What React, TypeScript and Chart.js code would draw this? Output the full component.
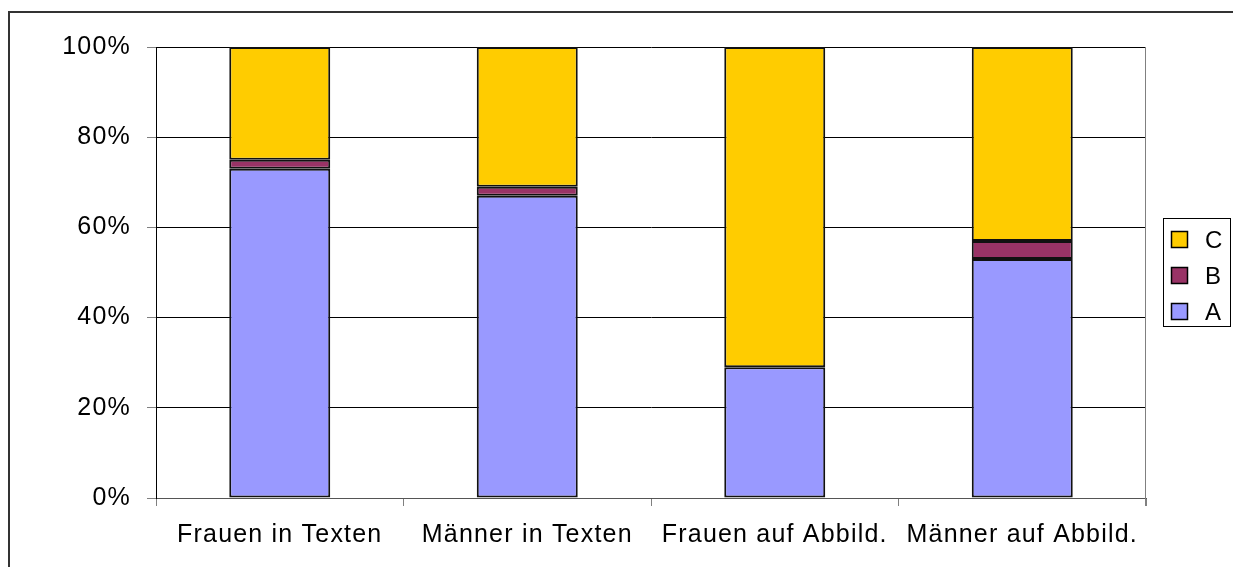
import React, { useEffect, useRef } from "react";
import { Chart, registerables } from "chart.js";

Chart.register(...registerables);

const categories = ["Frauen in Texten", "Männer in Texten", "Frauen auf Abbild.", "Männer auf Abbild."];
const seriesA = [73, 67, 29, 53];
const seriesB = [2, 2, 0, 4];
const seriesC = [25, 31, 71, 43];
const yTicks = [0, 20, 40, 60, 80, 100];

const FONT = "'Liberation Sans', Arial, sans-serif";

const legendPlugin = {
  id: "boxLegend",
  beforeDraw(chart: any) {
    chart.ctx.letterSpacing = "1.2px";
  },
  afterDraw(chart: any) {
    const ctx = chart.ctx;
    const ca = chart.chartArea;
    ctx.save();
    // right plot border
    ctx.strokeStyle = "#808080";
    ctx.lineWidth = 1;
    ctx.beginPath();
    ctx.moveTo(Math.round(ca.right) - 0.5, ca.top);
    ctx.lineTo(Math.round(ca.right) - 0.5, ca.bottom + 8);
    ctx.stroke();

    // legend box
    const bx = 1163.5, by = 218.5, bw = 67, bh = 108;
    ctx.fillStyle = "#fff";
    ctx.fillRect(bx, by, bw, bh);
    ctx.strokeStyle = "#000";
    ctx.strokeRect(bx, by, bw, bh);
    const ds = chart.data.datasets.slice().reverse();
    ds.forEach((d: any, i: number) => {
      const cy = 240 + i * 36;
      ctx.fillStyle = d.backgroundColor;
      ctx.fillRect(1172, cy - 8, 15, 15);
      ctx.strokeStyle = "#000";
      ctx.lineWidth = 1.5;
      ctx.strokeRect(1171.5, cy - 8.5, 16, 16);
      ctx.fillStyle = "#000";
      ctx.font = `24px ${FONT}`;
      ctx.textAlign = "left";
      ctx.textBaseline = "middle";
      ctx.letterSpacing = "1px";
      ctx.fillText(d.label, 1205, cy + 1);
    });
    ctx.restore();
  },
};

export default function App() {
  const ref = useRef<HTMLCanvasElement | null>(null);
  useEffect(() => {
    if (!ref.current) return;
    const common = { borderColor: "#111", borderWidth: 2, borderSkipped: false };
    const chart = new Chart(ref.current, {
      type: "bar",
      data: {
        labels: categories,
        datasets: [
          { label: "A", data: seriesA, backgroundColor: "#9999FF", ...common },
          { label: "B", data: seriesB, backgroundColor: "#993366", ...common },
          { label: "C", data: seriesC, backgroundColor: "#FFCC00", ...common },
        ],
      },
      options: {
        responsive: false,
        maintainAspectRatio: false,
        animation: false,
        devicePixelRatio: 1,
        layout: { padding: { top: 47, right: 87, left: 0, bottom: 0 } },
        datasets: { bar: { categoryPercentage: 1, barPercentage: 0.408 } },
        plugins: { legend: { display: false }, tooltip: { enabled: false } },
        scales: {
          x: {
            stacked: true,
            grid: { offset: true, drawOnChartArea: false, drawTicks: true, tickLength: 8, tickColor: "#808080" },
            border: { display: true, color: "#555" },
            ticks: { color: "#000", font: { family: FONT, size: 25 }, padding: 14, maxRotation: 0, autoSkip: false },
            afterFit: (s: any) => { s.height = 69; },
          },
          y: {
            stacked: true,
            min: 0,
            max: 100,
            afterBuildTicks: (s: any) => { s.ticks = yTicks.map((v) => ({ value: v })); },
            grid: { color: "#000", lineWidth: 1, tickLength: 9, tickColor: "#808080" },
            border: { display: true, color: "#000" },
            ticks: {
              color: "#000",
              font: { family: FONT, size: 25 },
              padding: 16,
              callback: (v: any) => `${v}%`,
            },
            afterFit: (s: any) => { s.width = 156; },
          },
        },
      },
      plugins: [legendPlugin],
    });
    return () => chart.destroy();
  }, []);
  return (
    <div style={{ position: "absolute", left: 0, top: 0, width: 1233, height: 567, overflow: "hidden", background: "#fff" }}>
      <canvas ref={ref} width={1233} height={567} style={{ position: "absolute", left: 0, top: 0, width: 1233, height: 567 }} />
      <div style={{ position: "absolute", left: 8, top: 11, width: 1400, height: 800, border: "2px solid #333", boxSizing: "border-box", pointerEvents: "none" }} />
    </div>
  );
}
